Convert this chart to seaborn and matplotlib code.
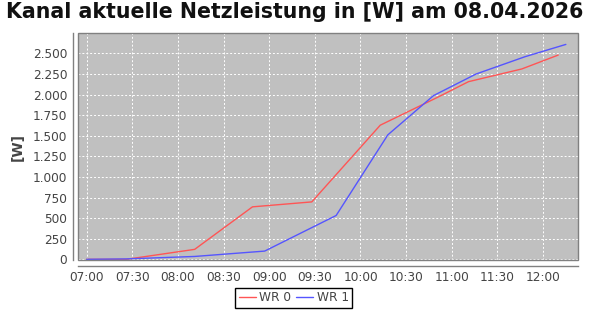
import matplotlib
matplotlib.use("Agg")
import matplotlib.pyplot as plt
import matplotlib.dates as mdates
from matplotlib.ticker import FuncFormatter, MultipleLocator
from matplotlib.patches import Rectangle
import seaborn as sns
import pandas as pd

# ---- data ----
day = "2026-04-08 "
wr0_times = ["07:00", "07:26", "08:11", "08:49", "09:28", "10:13", "10:50", "11:11", "11:46", "12:10"]
wr0_values = [0, 0, 121, 637, 697, 1628, 1960, 2156, 2310, 2479]
wr1_times = ["07:00", "07:26", "08:11", "08:57", "09:44", "10:18", "10:48", "11:16", "11:48", "12:15"]
wr1_values = [0, 5, 35, 100, 532, 1511, 1987, 2249, 2458, 2608]
series_names = ["WR 0", "WR 1"]
colors = ["#ff5555", "#5555ff"]
title = "Kanal aktuelle Netzleistung in [W] am 08.04.2026"
ylabel = "[W]"

df = pd.concat([
    pd.DataFrame({"t": pd.to_datetime([day + t for t in wr0_times]), "v": wr0_values, "s": series_names[0]}),
    pd.DataFrame({"t": pd.to_datetime([day + t for t in wr1_times]), "v": wr1_values, "s": series_names[1]}),
])

sns.set_theme(style="white")
plt.rcParams["font.family"] = ["DejaVu Sans"]

fig = plt.figure(figsize=(5.9, 3.1), dpi=100)
fig.patch.set_facecolor("white")
ax = fig.add_axes([0.1327, 0.1613, 0.9797 - 0.1327, 0.8926 - 0.1613])
ax.set_facecolor("#c0c0c0")

sns.lineplot(data=df, x="t", y="v", hue="s", palette=dict(zip(series_names, colors)),
             linewidth=1.0, ax=ax, sort=True, estimator=None)

ax.set_xlim(pd.Timestamp(day + "06:54:30"), pd.Timestamp(day + "12:23:00"))
ax.set_ylim(-8, 2743)
ax.xaxis.set_major_locator(mdates.MinuteLocator(byminute=[0, 30]))
ax.xaxis.set_major_formatter(mdates.DateFormatter("%H:%M"))
ax.yaxis.set_major_locator(MultipleLocator(250))
ax.yaxis.set_major_formatter(FuncFormatter(lambda v, p: f"{int(round(v)):,}".replace(",", ".")))

ax.grid(True, color="white", linestyle=(0, (2, 2)), linewidth=0.7)
ax.set_axisbelow(True)

for s in ["top", "right"]:
    ax.spines[s].set_visible(False)
for s in ["left", "bottom"]:
    ax.spines[s].set_position(("outward", 4))
    ax.spines[s].set_color("#808080")
    ax.spines[s].set_linewidth(1.0)
ax.add_patch(Rectangle((0, 0), 1, 1, transform=ax.transAxes, fill=False,
                       edgecolor="#808080", linewidth=1.0, clip_on=False, zorder=5))

ax.tick_params(axis="both", direction="out", length=2, width=0.8, color="#808080",
               labelsize=8.7, labelcolor="#444444", pad=2)
ax.set_xlabel("")
ax.set_ylabel(ylabel, fontsize=10, fontweight="bold", color="#444444", labelpad=6)

fig.suptitle(title, x=0.5, y=0.995, va="top", fontsize=14.8, fontweight="bold", color="#111111")

handles, labels = ax.get_legend_handles_labels()
ax.get_legend().remove()
leg = fig.legend(handles, labels, loc="lower center", bbox_to_anchor=(0.498, -0.005), ncol=2,
                 fancybox=False, edgecolor="black", framealpha=1, fontsize=8.7,
                 handlelength=1.4, handletextpad=0.3, columnspacing=0.4, borderpad=0.3,
                 borderaxespad=0.3)
leg.get_frame().set_linewidth(1.0)
for t in leg.get_texts():
    t.set_color("#444444")

fig.savefig("out.png", dpi=100)
